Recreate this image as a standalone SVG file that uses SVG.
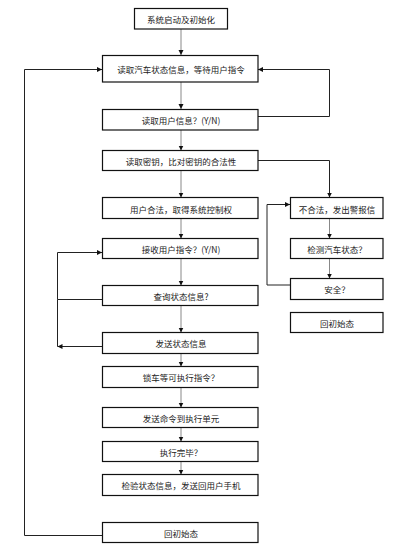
<svg xmlns="http://www.w3.org/2000/svg" width="403" height="549" viewBox="0 0 403 549">
<style>
.box{fill:#fff;stroke:#111;stroke-width:1.2}
.t{font-family:"Noto Sans CJK SC","Noto Sans",sans-serif;font-size:8.5px;fill:#222;text-anchor:middle;dominant-baseline:central}
.g{fill:none;stroke:#888;stroke-width:1}
.k{fill:none;stroke:#222;stroke-width:1}
</style>
<defs>
<marker id="a" markerUnits="userSpaceOnUse" markerWidth="6" markerHeight="6" refX="5" refY="3" orient="auto">
<path d="M0,0.5 L5,3 L0,5.5 z" fill="#111"/>
</marker>
</defs>
<rect width="403" height="549" fill="#fff"/>
<g id="connectors">
<path class="g" d="M181,29 V55" marker-end="url(#a)"/>
<path class="g" d="M181,82 V109" marker-end="url(#a)"/>
<path class="g" d="M181,130 V150.5" marker-end="url(#a)"/>
<path class="g" d="M181,170.5 V197.5" marker-end="url(#a)"/>
<path class="g" d="M181,218.5 V238.5" marker-end="url(#a)"/>
<path class="g" d="M181,258.5 V285.5" marker-end="url(#a)"/>
<path class="g" d="M181,305.5 V332.5" marker-end="url(#a)"/>
<path class="g" d="M181,353.5 V366.5" marker-end="url(#a)"/>
<path class="g" d="M181,387.5 V407.5" marker-end="url(#a)"/>
<path class="g" d="M181,427.5 V441.5" marker-end="url(#a)"/>
<path class="g" d="M181,461.5 V474.5" marker-end="url(#a)"/>
<path class="k" d="M258,116.5 H329.5 V69.5 H258" marker-end="url(#a)"/>
<path class="k" d="M102,535.5 H24.5 V69.5 H102" marker-end="url(#a)"/>
<path class="k" d="M258,160.5 H329.5 V197.5" marker-end="url(#a)"/>
<path class="g" d="M329.5,218.5 V238.5" marker-end="url(#a)"/>
<path class="g" d="M329.5,258.5 V278.5" marker-end="url(#a)"/>
<path class="k" d="M290,285 H267 V204.5 H290" marker-end="url(#a)"/>
<path class="k" d="M102,299.5 H57.5 V252.5 H102" marker-end="url(#a)"/>
<path class="k" d="M57.5,299.5 V346.5"/>
<path class="k" d="M102,346.5 H57.5" marker-end="url(#a)"/>
</g>
<g id="n1"><rect class="box" x="134.5" y="8.5" width="93" height="20.5"/><text class="t" x="181" y="19">系统启动及初始化</text></g>
<g id="n2"><rect class="box" x="102.5" y="55.5" width="155.5" height="26.5"/><text class="t" x="181" y="69">读取汽车状态信息，等待用户指令</text></g>
<g id="n3"><rect class="box" x="102.5" y="109.5" width="155.5" height="20.5"/><text class="t" x="181" y="120">读取用户信息？(Y/N)</text></g>
<g id="n4"><rect class="box" x="102.5" y="150.5" width="155.5" height="20"/><text class="t" x="181" y="161">读取密钥，比对密钥的合法性</text></g>
<g id="n5"><rect class="box" x="102.5" y="197.5" width="155.5" height="21"/><text class="t" x="181" y="208.5">用户合法，取得系统控制权</text></g>
<g id="n6"><rect class="box" x="102.5" y="238.5" width="155.5" height="20"/><text class="t" x="181" y="248.5">接收用户指令？(Y/N)</text></g>
<g id="n7"><rect class="box" x="102.5" y="285.5" width="155.5" height="20"/><text class="t" x="181" y="296">查询状态信息?</text></g>
<g id="n8"><rect class="box" x="102.5" y="332.5" width="155.5" height="21"/><text class="t" x="181" y="343">发送状态信息</text></g>
<g id="n9"><rect class="box" x="102.5" y="366.5" width="155.5" height="21"/><text class="t" x="181" y="377">锁车等可执行指令？</text></g>
<g id="n10"><rect class="box" x="102.5" y="407.5" width="155.5" height="20"/><text class="t" x="181" y="418">发送命令到执行单元</text></g>
<g id="n11"><rect class="box" x="102.5" y="441.5" width="155.5" height="20"/><text class="t" x="181" y="451.5">执行完毕？</text></g>
<g id="n12"><rect class="box" x="102.5" y="474.5" width="155.5" height="21"/><text class="t" x="181" y="485">检验状态信息，发送回用户手机</text></g>
<g id="n13"><rect class="box" x="102.5" y="522.5" width="155.5" height="20"/><text class="t" x="181" y="532.5">回初始态</text></g>
<g id="r1"><rect class="box" x="290.5" y="197.5" width="92.5" height="21"/><text class="t" x="337" y="208.5">不合法，发出警报信</text></g>
<g id="r2"><rect class="box" x="290.5" y="238.5" width="92.5" height="20"/><text class="t" x="337" y="248.5">检测汽车状态？</text></g>
<g id="r3"><rect class="box" x="290.5" y="278.5" width="92.5" height="21"/><text class="t" x="337" y="289">安全？</text></g>
<g id="r4"><rect class="box" x="290.5" y="312.5" width="92.5" height="20"/><text class="t" x="337" y="322.5">回初始态</text></g>
</svg>
